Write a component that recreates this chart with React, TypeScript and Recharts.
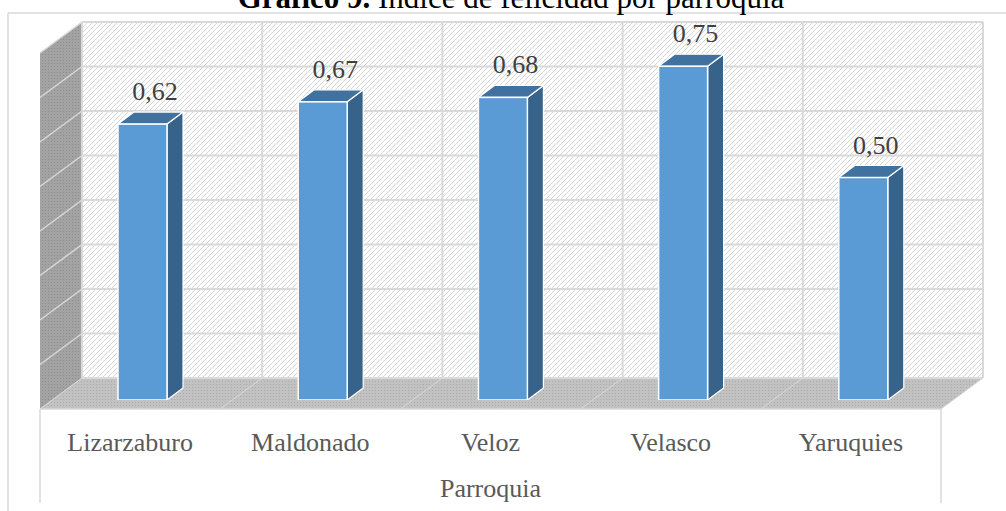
import React from 'react';
import { BarChart, Bar, XAxis, YAxis, ReferenceArea, LabelList } from 'recharts';

const categories = ['Lizarzaburo', 'Maldonado', 'Veloz', 'Velasco', 'Yaruquies'];
const values = [0.62, 0.67, 0.68, 0.75, 0.5];
const yTicks = [0, 0.1, 0.2, 0.3, 0.4, 0.5, 0.6, 0.7, 0.8];
const titleBold = 'Gráfico 9.';
const titleRest = ' Índice de felicidad por parroquia';
const axisTitle = 'Parroquia';

const data = categories.map((name, i) => ({ name, value: values[i] }));

const W = 1006;
const H = 511;
const FONT = '"Liberation Serif", "Times New Roman", serif';
const BACK = { dx: 30, dy: -22 };
const FRONT = { dx: -12, dy: 9 };
const DEPTH = { dx: 16, dy: -12 };
const GRID = '#D9D9D9';
const Y_MAX = yTicks[yTicks.length - 1];

const Room = (props: any) => {
  const { x, y, width, height } = props;
  const bx = x + BACK.dx;
  const by = y + BACK.dy;
  const bBottom = y + height + BACK.dy;
  const fx = x + FRONT.dx;
  const fBottom = y + height + FRONT.dy;
  const fTop = y + FRONT.dy + (BACK.dy - FRONT.dy) + (FRONT.dy - BACK.dy); // same height as back wall shifted
  const leftTopFront = by + (FRONT.dy - BACK.dy);
  const band = width / categories.length;
  return (
    <g>
      <defs>
        <pattern id="hatch" patternUnits="userSpaceOnUse" width="5" height="5">
          <rect width="5" height="5" fill="#FFFFFF" />
          <path d="M-1,1 l2,-2 M0,5 l5,-5 M4,6 l2,-2" stroke="#D6D6D6" strokeWidth="1" />
        </pattern>
        <pattern id="dotsWall" patternUnits="userSpaceOnUse" width="3" height="3">
          <rect width="3" height="3" fill="#A3A3A3" />
          <rect width="1" height="1" fill="#8C8C8C" />
        </pattern>
        <pattern id="dotsFloor" patternUnits="userSpaceOnUse" width="3" height="3">
          <rect width="3" height="3" fill="#C2C2C2" />
          <rect width="1" height="1" fill="#A9A9A9" />
        </pattern>
      </defs>
      {/* outer chart border */}
      <line x1={8} y1={13} x2={W} y2={13} stroke={GRID} strokeWidth={1.5} />
      <line x1={8} y1={13} x2={8} y2={H} stroke={GRID} strokeWidth={1.5} />
      {/* title */}
      <text x={511} y={8} textAnchor="middle" fontFamily={FONT} fontSize={31} fill="#000">
        <tspan fontWeight="bold">{titleBold}</tspan>
        <tspan>{titleRest}</tspan>
      </text>
      {/* back wall */}
      <rect x={bx} y={by} width={width} height={height} fill="url(#hatch)" />
      {/* left wall */}
      <polygon
        points={`${bx},${by} ${bx},${bBottom} ${fx},${fBottom} ${fx},${leftTopFront}`}
        fill="url(#dotsWall)"
      />
      {/* floor */}
      <polygon
        points={`${fx},${fBottom} ${bx},${bBottom} ${bx + width},${bBottom} ${fx + width},${fBottom}`}
        fill="url(#dotsFloor)"
      />
      {/* horizontal gridlines on back wall and left wall */}
      {yTicks.map((t) => {
        const gy = by + height - (t / Y_MAX) * height;
        return (
          <g key={`h${t}`}>
            <line x1={bx} y1={gy} x2={bx + width} y2={gy} stroke={GRID} strokeWidth={2} />
            {t > 0 && (
              <line x1={bx} y1={gy} x2={fx} y2={gy + (FRONT.dy - BACK.dy)} stroke={GRID} strokeWidth={1.5} />
            )}
          </g>
        );
      })}
      {/* vertical gridlines on back wall and floor */}
      {categories.map((c, i) => {
        const vx = bx + band * i;
        return (
          <g key={`v${i}`}>
            <line x1={vx} y1={by} x2={vx} y2={bBottom} stroke={GRID} strokeWidth={2} />
            <line x1={vx} y1={bBottom} x2={fx + band * i} y2={fBottom} stroke={GRID} strokeWidth={1} />
          </g>
        );
      })}
      <line x1={bx + width} y1={by} x2={bx + width} y2={bBottom} stroke={GRID} strokeWidth={2} />
      <line x1={bx + width} y1={bBottom} x2={fx + width} y2={fBottom} stroke={GRID} strokeWidth={1} />
      {/* floor front edge and category area */}
      <line x1={fx} y1={fBottom} x2={fx + width} y2={fBottom} stroke={GRID} strokeWidth={1.5} />
      <line x1={fx} y1={fBottom} x2={fx} y2={H - 8} stroke={GRID} strokeWidth={1.5} />
      <line x1={fx + width} y1={fBottom} x2={fx + width} y2={H - 8} stroke={GRID} strokeWidth={1.5} />
      {fTop ? null : null}
    </g>
  );
};

const Bar3D = (props: any) => {
  const { x, y, width, height } = props;
  if (height == null || width == null) return null;
  const { dx, dy } = DEPTH;
  return (
    <g>
      <polygon
        points={`${x + width},${y} ${x + width + dx},${y + dy} ${x + width + dx},${y + height + dy} ${x + width},${y + height}`}
        fill="#37628A"
        stroke="#FFFFFF"
        strokeWidth={1.2}
        strokeLinejoin="round"
      />
      <polygon
        points={`${x},${y} ${x + dx},${y + dy} ${x + width + dx},${y + dy} ${x + width},${y}`}
        fill="#41729F"
        stroke="#FFFFFF"
        strokeWidth={1.2}
        strokeLinejoin="round"
      />
      <rect x={x} y={y} width={width} height={height} fill="#5B9BD5" stroke="#FFFFFF" strokeWidth={1.5} />
    </g>
  );
};

const CatTick = (props: any) => {
  const { x, y, payload } = props;
  return (
    <text x={x + FRONT.dx} y={y + 51} textAnchor="middle" fontFamily={FONT} fontSize={26} fill="#595959">
      {payload.value}
    </text>
  );
};

const ValueLabel = (props: any) => {
  const { x, y, width, value } = props;
  return (
    <text
      x={x + width / 2 + 12.5}
      y={y - 24}
      textAnchor="middle"
      fontFamily={FONT}
      fontSize={26}
      fill="#404040"
    >
      {Number(value).toFixed(2).replace('.', ',')}
    </text>
  );
};

const AxisTitle = (props: any) => {
  const vb = props.viewBox || {};
  return (
    <text
      x={vb.x + vb.width / 2 + FRONT.dx}
      y={497}
      textAnchor="middle"
      fontFamily={FONT}
      fontSize={26}
      fill="#595959"
    >
      {axisTitle}
    </text>
  );
};

export default function App() {
  return (
    <div style={{ position: 'absolute', left: 0, top: 0, width: W, height: H, background: '#fff' }}>
      <BarChart
        width={W}
        height={H}
        data={data}
        margin={{ top: 44, right: 53, bottom: 0, left: 52 }}
        barCategoryGap={0}
      >
        <XAxis
          dataKey="name"
          axisLine={false}
          tickLine={false}
          tickSize={0}
          tickMargin={0}
          height={111}
          interval={0}
          tick={<CatTick />}
          label={<AxisTitle />}
        />
        <YAxis hide domain={[0, Y_MAX]} ticks={yTicks} allowDataOverflow />
        <ReferenceArea y1={0} y2={Y_MAX} shape={<Room />} ifOverflow="visible" zIndex={-200} />
        <Bar
          dataKey="value"
          barSize={49}
          isAnimationActive={false}
          shape={<Bar3D />}
        >
          <LabelList dataKey="value" content={<ValueLabel />} />
        </Bar>
      </BarChart>
    </div>
  );
}
